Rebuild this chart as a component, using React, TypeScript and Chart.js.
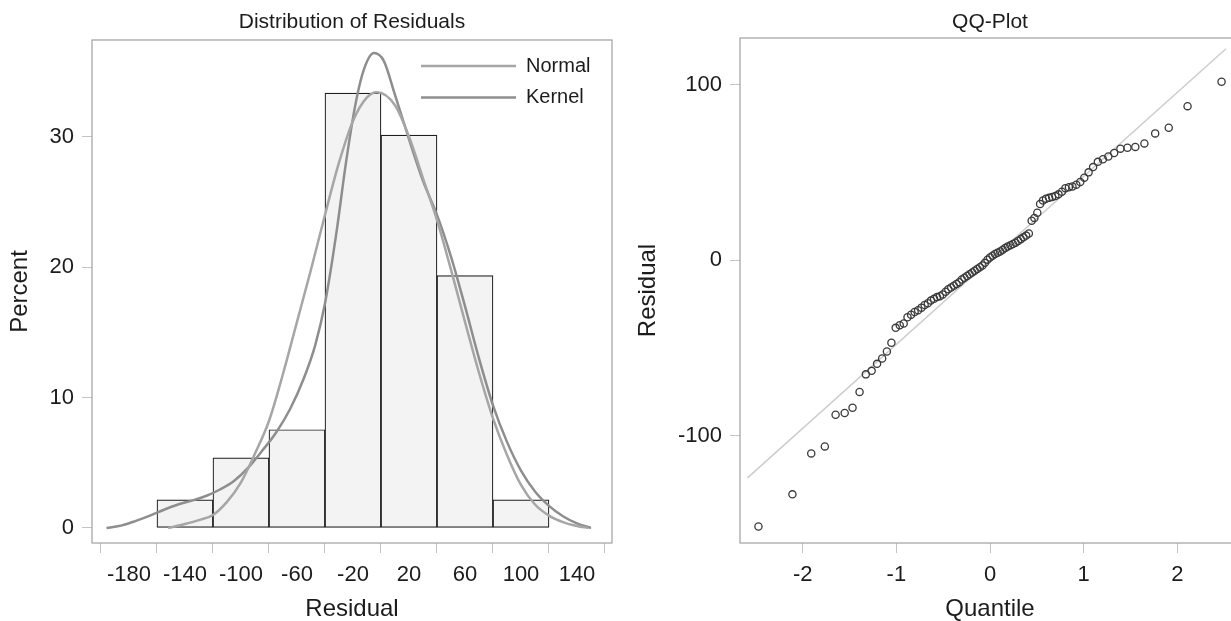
import React, { useEffect, useRef } from "react";
import { Chart, registerables } from "chart.js";

Chart.register(...registerables);

// ---------- Histogram data ----------
const binCenters = [-140, -100, -60, -20, 20, 60, 100];
const binPercents = [2.15, 5.38, 7.53, 33.33, 30.11, 19.35, 2.15];
const histXTicks = [-180, -140, -100, -60, -20, 20, 60, 100, 140];
const histYTicks = [0, 10, 20, 30];

const normalX = [-152, -140, -130, -120, -110, -100, -90, -80, -70, -60, -50, -40, -30, -20, -10, -3, 10, 20, 30, 40, 50, 60, 70, 80, 90, 100, 110, 120, 130, 140, 148];
const normalY = [0, 0.3, 0.6, 1.0, 2.0, 3.5, 5.7, 8.2, 11.8, 15.8, 19.8, 24.0, 28.0, 31.2, 33.0, 33.4, 32.4, 30.0, 26.8, 23.6, 19.8, 15.8, 11.9, 8.4, 5.6, 3.3, 1.8, 0.95, 0.45, 0.15, 0];

const kernelX = [-196, -185, -175, -165, -155, -145, -135, -125, -115, -105, -95, -85, -75, -65, -55, -47, -40, -32, -25, -18, -12, -5, 2, 10, 20, 30, 40, 50, 60, 70, 80, 90, 100, 110, 120, 130, 140, 150];
const kernelY = [0, 0.2, 0.55, 0.95, 1.4, 1.8, 2.1, 2.45, 2.95, 3.6, 4.6, 5.9, 7.3, 9.1, 11.5, 14.0, 17.2, 22.5, 28.0, 32.6, 35.2, 36.4, 35.8, 33.2, 29.8, 26.6, 24.0, 20.8, 17.0, 13.0, 9.4, 6.6, 4.4, 2.8, 1.7, 0.9, 0.35, 0];

// ---------- QQ data ----------
const qqQuantiles = [
  -2.473, -2.110, -1.909, -1.764, -1.649, -1.552, -1.468, -1.393, -1.326, -1.264,
  -1.206, -1.152, -1.101, -1.053, -1.007, -0.964, -0.922, -0.881, -0.843, -0.805,
  -0.768, -0.732, -0.698, -0.664, -0.631, -0.598, -0.566, -0.535, -0.505, -0.474,
  -0.445, -0.415, -0.386, -0.357, -0.329, -0.301, -0.273, -0.245, -0.218, -0.190,
  -0.163, -0.136, -0.108, -0.081, -0.054, -0.027, 0, 0.027, 0.054, 0.081,
  0.108, 0.136, 0.163, 0.190, 0.218, 0.245, 0.273, 0.301, 0.329, 0.357,
  0.386, 0.415, 0.445, 0.474, 0.505, 0.535, 0.566, 0.598, 0.631, 0.664,
  0.698, 0.732, 0.768, 0.805, 0.843, 0.881, 0.922, 0.964, 1.007, 1.053,
  1.101, 1.152, 1.206, 1.264, 1.326, 1.393, 1.468, 1.552, 1.649, 1.764,
  1.909, 2.110, 2.473,
];
const qqResiduals = [
  -151.6, -133.3, -110, -106, -88, -87, -84, -75, -65, -63,
  -59, -56, -52, -47, -38.5, -37, -36, -32.5, -31, -29.5,
  -28.5, -27, -25.5, -24.5, -23, -22, -21, -20.5, -19.5, -18,
  -16.5, -15.5, -14.5, -13.5, -12.5, -11, -10, -9, -8, -7,
  -6, -5, -4, -3, -1.5, 0.3, 1.5, 2.5, 3.5, 4.2,
  5.0, 6.0, 7.0, 7.8, 8.5, 9.2, 10.0, 11.0, 12.0, 13.0,
  14.0, 15.2, 22.5, 24, 27, 32, 34, 35, 35.5, 36,
  36.5, 37.5, 39, 41, 41.5, 42, 43, 44.5, 47, 50,
  53, 56, 57.5, 59, 61, 63.5, 64, 64.5, 66.5, 72.2,
  75.4, 87.7, 101.6,
];
const refLineQ = [-2.59, 2.52];
const refLineRes = [-123.9, 120.4];
const qqXTicks = [-2, -1, 0, 1, 2];
const qqYTicks = [-100, 0, 100];

const FONT = "'Liberation Sans', Arial, Helvetica, sans-serif";
const TEXT = "#1c1c1c";

const framePlugin = {
  id: "frame",
  beforeDatasetsDraw(chart: any) {
    const { ctx, chartArea } = chart;
    ctx.save();
    ctx.strokeStyle = "#a0a0a0";
    ctx.lineWidth = 1.2;
    ctx.strokeRect(chartArea.left, chartArea.top, chartArea.right - chartArea.left, chartArea.bottom - chartArea.top);
    ctx.restore();
  },
};

const insetLegendPlugin = {
  id: "insetLegend",
  afterDatasetsDraw(chart: any) {
    const { ctx, chartArea } = chart;
    const items = chart.data.datasets.filter((d: any) => d.type === "line");
    ctx.save();
    items.forEach((ds: any, i: number) => {
      const y = chartArea.top + 26 + i * 31.5;
      ctx.strokeStyle = ds.borderColor;
      ctx.lineWidth = ds.borderWidth;
      ctx.beginPath();
      ctx.moveTo(chartArea.right - 191, y);
      ctx.lineTo(chartArea.right - 96, y);
      ctx.stroke();
      ctx.fillStyle = TEXT;
      ctx.font = `20px ${FONT}`;
      ctx.textBaseline = "middle";
      ctx.textAlign = "left";
      ctx.fillText(ds.label, chartArea.right - 86, y);
    });
    ctx.restore();
  },
};

function axisCommon(ticks: number[], fit: (s: any) => void, titleText: string, titlePad: any, tickPad: number) {
  return {
    type: "linear" as const,
    offset: false,
    afterBuildTicks: (scale: any) => {
      scale.ticks = ticks.map((v) => ({ value: v }));
    },
    afterFit: fit,
    grid: { display: true, drawOnChartArea: false, drawTicks: true, tickLength: 10, color: "#c4c4c4", lineWidth: 1 },
    border: { display: false },
    ticks: {
      font: { family: FONT, size: 22 },
      color: TEXT,
      padding: tickPad,
      callback: (v: any) => String(v),
    },
    title: {
      display: true,
      text: titleText,
      font: { family: FONT, size: 24, lineHeight: 1 },
      color: TEXT,
      padding: titlePad,
    },
  };
}

export default function App() {
  const leftRef = useRef<HTMLCanvasElement>(null);
  const rightRef = useRef<HTMLCanvasElement>(null);

  useEffect(() => {
    const hist = new Chart(leftRef.current as HTMLCanvasElement, {
      type: "scatter",
      data: {
        datasets: [
          {
            type: "line",
            label: "Normal",
            data: normalX.map((x, i) => ({ x, y: normalY[i] })),
            borderColor: "#a6a6a6",
            borderWidth: 2.5,
            pointRadius: 0,
            cubicInterpolationMode: "monotone",
            fill: false,
            order: 1,
          } as any,
          {
            type: "line",
            label: "Kernel",
            data: kernelX.map((x, i) => ({ x, y: kernelY[i] })),
            borderColor: "#8e8e8e",
            borderWidth: 2.5,
            pointRadius: 0,
            cubicInterpolationMode: "monotone",
            fill: false,
            order: 1,
          } as any,
          {
            type: "bar",
            label: "Percent",
            data: binCenters.map((x, i) => ({ x, y: binPercents[i] })),
            backgroundColor: "#f3f3f3",
            borderColor: "#1e1e1e",
            borderWidth: 1.2,
            borderSkipped: false,
            barPercentage: 1,
            categoryPercentage: 1,
            order: 2,
          } as any,
        ],
      },
      options: {
        responsive: false,
        animation: false,
        devicePixelRatio: 1,
        layout: { padding: { left: 0, right: 3, top: 0, bottom: 0 } },
        plugins: {
          legend: { display: false },
          tooltip: { enabled: false },
          title: {
            display: true,
            text: "Distribution of Residuals",
            fullSize: false,
            font: { family: FONT, size: 21, weight: "normal" },
            color: TEXT,
            padding: { top: 9.4, bottom: 5.4 },
          },
        },
        scales: {
          x: {
            ...axisCommon(histXTicks, (s: any) => { s.height = 78; }, "Residual", { top: 0, bottom: 0 }, 9),
            min: -206.4,
            max: 165,
          },
          y: {
            ...axisCommon(histYTicks, (s: any) => { s.width = 92; }, "Percent", { top: 8, bottom: 0 }, 8),
            min: -1.15,
            max: 37.4,
          },
        },
      } as any,
      plugins: [framePlugin, insetLegendPlugin],
    });

    const qq = new Chart(rightRef.current as HTMLCanvasElement, {
      type: "scatter",
      data: {
        datasets: [
          {
            type: "line",
            label: "Reference",
            data: refLineQ.map((x, i) => ({ x, y: refLineRes[i] })),
            borderColor: "#cdcdcd",
            borderWidth: 1.5,
            pointRadius: 0,
            fill: false,
            order: 2,
          } as any,
          {
            type: "scatter",
            label: "Residual",
            data: qqQuantiles.map((x, i) => ({ x, y: qqResiduals[i] })),
            pointStyle: "circle",
            pointRadius: 3.6,
            borderColor: "#3a3a3a",
            borderWidth: 1.3,
            backgroundColor: "rgba(0,0,0,0)",
            order: 1,
          } as any,
        ],
      },
      options: {
        responsive: false,
        animation: false,
        devicePixelRatio: 1,
        layout: { padding: { left: 0, right: 15, top: 0, bottom: 0 } },
        plugins: {
          legend: { display: false },
          tooltip: { enabled: false },
          title: {
            display: true,
            text: "QQ-Plot",
            fullSize: false,
            font: { family: FONT, size: 21, weight: "normal" },
            color: TEXT,
            padding: { top: 9.4, bottom: 3.4 },
          },
        },
        scales: {
          x: {
            ...axisCommon(qqXTicks, (s: any) => { s.height = 78; }, "Quantile", { top: 0, bottom: 0 }, 9),
            min: -2.67,
            max: 2.67,
          },
          y: {
            ...axisCommon(qqYTicks, (s: any) => { s.width = 125; }, "Residual", { top: 21, bottom: 0 }, 8),
            min: -161,
            max: 126.5,
          },
        },
      } as any,
      plugins: [framePlugin],
    });

    return () => {
      hist.destroy();
      qq.destroy();
    };
  }, []);

  return (
    <div style={{ position: "fixed", left: 0, top: 0, width: 1231, height: 621, overflow: "hidden", background: "#ffffff" }}>
      <canvas ref={leftRef} width={615} height={621} style={{ position: "absolute", left: 0, top: 0, width: 615, height: 621 }} />
      <canvas ref={rightRef} width={640} height={621} style={{ position: "absolute", left: 615, top: 0, width: 640, height: 621 }} />
    </div>
  );
}
